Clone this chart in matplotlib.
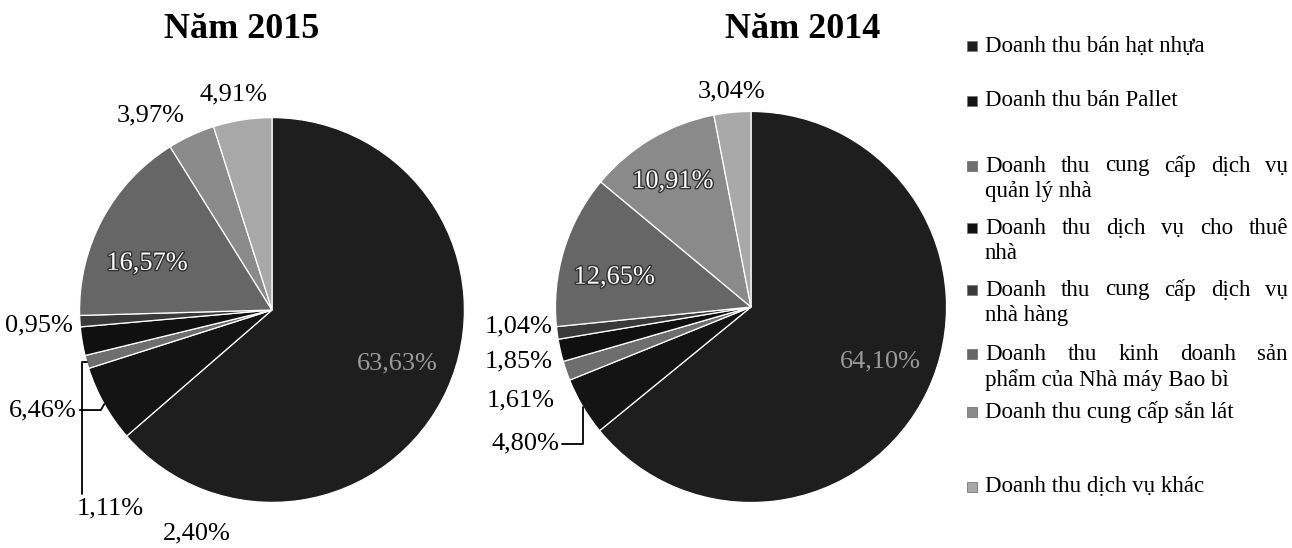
import matplotlib
matplotlib.use("Agg")
import matplotlib.pyplot as plt
import matplotlib.patheffects as pe
from matplotlib.patches import Rectangle
import numpy as np

# ----------------------------------------------------------------------
# Data
# ----------------------------------------------------------------------
categories = [
    "Doanh thu bán hạt nhựa",
    "Doanh thu bán Pallet",
    "Doanh thu cung cấp dịch vụ\nquản lý nhà",
    "Doanh thu dịch vụ cho thuê\nnhà",
    "Doanh thu cung cấp dịch vụ\nnhà hàng",
    "Doanh thu kinh doanh sản\nphẩm của Nhà máy Bao bì",
    "Doanh thu cung cấp sắn lát",
    "Doanh thu dịch vụ khác",
]
share_2015 = [63.63, 6.46, 1.11, 2.40, 0.95, 16.57, 3.97, 4.91]
share_2014 = [64.10, 4.80, 1.61, 1.85, 1.04, 12.65, 10.91, 3.04]
titles = ["Năm 2015", "Năm 2014"]

# ----------------------------------------------------------------------
# Style
# ----------------------------------------------------------------------
colors = ['#1e1e1e', '#141414', '#6e6e6e', '#101010',
          '#3a3a3a', '#666666', '#8a8a8a', '#a8a8a8']

W, H = 1292, 548
SERIF = ['Liberation Serif', 'DejaVu Serif']
LABEL_FS = 19
LEGEND_FS = 16.5

# pie centre / radius in pixels
pie_boxes = [(272, 310, 185), (751, 307, 188)]
title_pos = [(242, 30), (803, 30)]

# label positions in pie units (radius = 1)
label_pos_2015 = [(0.65, -0.28), (-1.19, -0.52), (-0.84, -1.03), (-0.39, -1.16),
                  (-1.21, -0.08), (-0.65, 0.24), (-0.63, 1.01), (-0.20, 1.12)]
label_pos_2014 = [(0.66, -0.28), (-1.155, -0.70), (-1.18, -0.48), (-1.19, -0.28),
                  (-1.19, -0.10), (-0.70, 0.15), (-0.40, 0.64), (-0.10, 1.10)]
leaders_2015 = {1: ("angle,angleA=0,angleB=60", (1.0, 0.5)),
                2: ("angle,angleA=90,angleB=0", (0.08, 1.0))}
leaders_2014 = {1: ("angle,angleA=0,angleB=90", (1.0, 0.5))}

legend_y = [46, 101, 166, 228, 290, 354, 412, 487]
LEG_X0, LEG_X1 = 985, 1288

plt.rcParams['font.family'] = SERIF

fig = plt.figure(figsize=(W / 100, H / 100), dpi=100)

for k, (vals, lpos, leaders) in enumerate(zip(
        [share_2015, share_2014], [label_pos_2015, label_pos_2014],
        [leaders_2015, leaders_2014])):
    cx, cy, r = pie_boxes[k]
    ax = fig.add_axes([(cx - r * 1.3) / W, (H - cy - r * 1.3) / H,
                       2.6 * r / W, 2.6 * r / H])
    ax.set_xlim(-1.3, 1.3)
    ax.set_ylim(-1.3, 1.3)
    ax.set_aspect('equal')
    ax.axis('off')

    wedges, _ = ax.pie(vals, colors=colors, startangle=90, counterclock=False,
                       radius=1.0,
                       wedgeprops=dict(edgecolor='white', linewidth=0.9))

    for i, (w, v) in enumerate(zip(wedges, vals)):
        txt = f"{v:.2f}%".replace('.', ',')
        lx, ly = lpos[i]
        if i == 0:
            ax.text(lx, ly, txt, ha='center', va='center', fontsize=LABEL_FS,
                    color='#9a9a9a')
            continue
        if np.hypot(lx, ly) < 1.0:
            t = ax.text(lx, ly, txt, ha='center', va='center',
                        fontsize=LABEL_FS, color='white')
            t.set_path_effects([pe.Stroke(linewidth=2, foreground='#303030'),
                                pe.Normal()])
            continue
        if i in leaders:
            cs, rp = leaders[i]
            ang = np.deg2rad((w.theta1 + w.theta2) / 2)
            ax.annotate(txt, xy=(np.cos(ang), np.sin(ang)), xytext=(lx, ly),
                        ha='center', va='center', fontsize=LABEL_FS,
                        arrowprops=dict(arrowstyle='-', color='black', lw=1.3,
                                        connectionstyle=cs, relpos=rp,
                                        shrinkA=0, shrinkB=0))
        else:
            ax.text(lx, ly, txt, ha='center', va='center', fontsize=LABEL_FS,
                    color='black')

    tx, ty = title_pos[k]
    fig.text(tx / W, 1 - ty / H, titles[k], ha='center', va='center',
             fontsize=26, fontweight='bold')

# ----------------------------------------------------------------------
# Legend (drawn by hand: uneven spacing, justified wrapped lines)
# ----------------------------------------------------------------------
renderer = fig.canvas.get_renderer()


def word_width(word):
    t = fig.text(0, 0, word, fontsize=LEGEND_FS)
    wpx = t.get_window_extent(renderer).width
    t.remove()
    return wpx


for lab, col, y in zip(categories, colors, legend_y):
    fig.patches.append(Rectangle((967 / W, (H - y - 5) / H), 10 / W, 10 / H,
                                 transform=fig.transFigure, facecolor=col,
                                 edgecolor='#777777', linewidth=0.6))
    lines = lab.split('\n')
    for j, line in enumerate(lines):
        ypos = 1 - (y + 26 * j) / H
        if len(lines) > 1 and j < len(lines) - 1:
            words = line.split(' ')
            widths = [word_width(wd) for wd in words]
            gap = (LEG_X1 - LEG_X0 - sum(widths)) / (len(words) - 1)
            x = LEG_X0
            for wd, wpx in zip(words, widths):
                fig.text(x / W, ypos, wd, ha='left', va='center',
                         fontsize=LEGEND_FS)
                x += wpx + gap
        else:
            fig.text(LEG_X0 / W, ypos, line, ha='left', va='center',
                     fontsize=LEGEND_FS)

plt.savefig("out.png", dpi=100)
plt.close()
